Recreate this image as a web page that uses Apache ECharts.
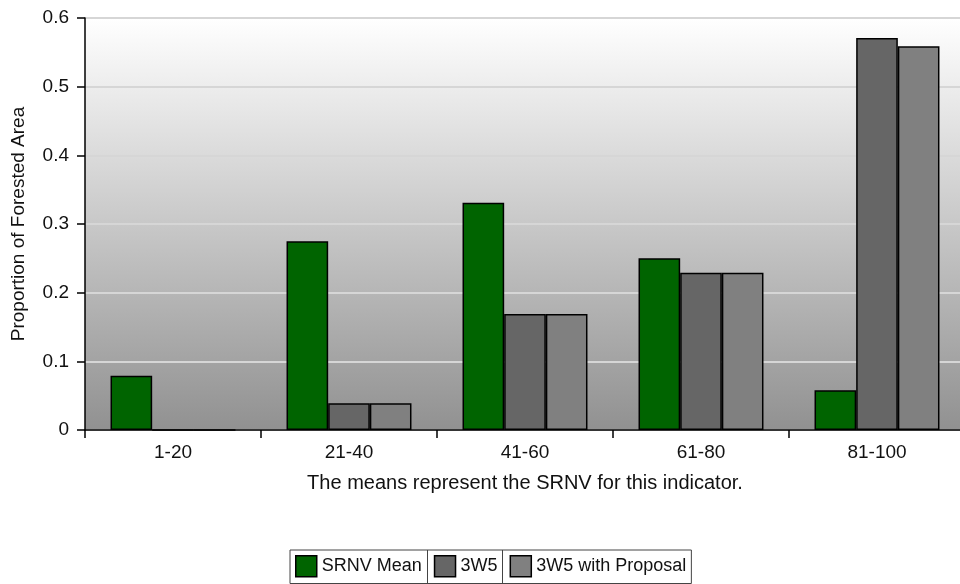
<!DOCTYPE html>
<html>
<head>
<meta charset="utf-8">
<script src="https://cdn.jsdelivr.net/npm/echarts@6/dist/echarts.min.js"></script>
<style>
html,body{margin:0;padding:0;background:#fff;}
#chart{width:960px;height:584px;}
</style>
</head>
<body>
<div id="chart"></div>
<script>
var categories = ['1-20', '21-40', '41-60', '61-80', '81-100'];
var srnvMean = [0.079, 0.275, 0.331, 0.250, 0.058];
var w5 = [0, 0.039, 0.169, 0.229, 0.571];
var w5Proposal = [0, 0.039, 0.169, 0.229, 0.559];
var seriesNames = ['SRNV Mean', '3W5', '3W5 with Proposal'];
var seriesColors = ['#006400', '#666666', '#808080'];

var FONT = 'Arial, "Liberation Sans", sans-serif';
var FS = 19;
var LFS = 18;
var TXT = '#111';

// legend geometry
var legLeft = 290, legPad = 5, iconW = 21, textGap = 5, itemGap = 12;
var ctx = document.createElement('canvas').getContext('2d');
ctx.font = LFS + 'px ' + FONT;
var seps = [];
var x = legLeft + legPad;
for (var i = 0; i < seriesNames.length; i++) {
  x += iconW + textGap + ctx.measureText(seriesNames[i]).width;
  if (i < seriesNames.length - 1) {
    seps.push(Math.round(x + itemGap / 2) + 0.5);
    x += itemGap;
  }
}

var chart = echarts.init(document.getElementById('chart'));
var data = [srnvMean, w5, w5Proposal];
var series = seriesNames.map(function (n, i) {
  return {
    name: n,
    type: 'bar',
    data: data[i],
    barGap: '0%',
    barCategoryGap: '29%',
    itemStyle: { color: seriesColors[i], borderColor: '#000', borderWidth: 1.5 }
  };
});

chart.setOption({
  animation: false,
  textStyle: { fontFamily: FONT },
  grid: {
    left: 85, top: 18, width: 880, height: 412,
    outerBoundsMode: 'none',
    containLabel: false,
    show: true, borderWidth: 0,
    backgroundColor: new echarts.graphic.LinearGradient(0, 0, 0, 1, [
      { offset: 0, color: '#ffffff' },
      { offset: 1, color: '#919191' }
    ])
  },
  legend: {
    left: legLeft, top: 550,
    padding: [5, legPad, 6, legPad],
    itemWidth: iconW, itemHeight: iconW, itemGap: itemGap,
    borderColor: '#444', borderWidth: 1, backgroundColor: '#fff',
    icon: 'rect',
    itemStyle: { borderColor: '#000', borderWidth: 1.5 },
    textStyle: { fontSize: LFS, color: TXT, fontFamily: FONT, padding: [2, 0, 0, 0] },
    data: seriesNames
  },
  graphic: seps.map(function (sx) {
    return { type: 'line', shape: { x1: sx, y1: 550, x2: sx, y2: 584 }, style: { stroke: '#444', lineWidth: 1 }, z: 100 };
  }),
  xAxis: {
    type: 'category',
    data: categories,
    name: 'The means represent the SRNV for this indicator.',
    nameLocation: 'middle',
    nameGap: 43,
    nameTextStyle: { fontSize: 20, color: TXT },
    axisLine: { lineStyle: { color: '#000', width: 1.5 } },
    axisTick: { show: true, length: 8, lineStyle: { color: '#000', width: 1.5 } },
    axisLabel: { fontSize: FS, color: TXT, margin: 13 },
    splitLine: { show: false }
  },
  yAxis: {
    type: 'value',
    min: 0, max: 0.6, interval: 0.1,
    name: 'Proportion of Forested Area',
    nameLocation: 'middle',
    nameRotate: 90,
    nameGap: 57,
    nameTextStyle: { fontSize: FS, color: TXT },
    axisLine: { show: true, lineStyle: { color: '#000', width: 1.5 } },
    axisTick: { show: true, length: 8, lineStyle: { color: '#000', width: 1.5 } },
    axisLabel: { fontSize: FS, color: TXT, margin: 16 },
    splitLine: { show: true, lineStyle: { color: '#d6d6d6', width: 2 } }
  },
  series: series
});
</script>
</body>
</html>
